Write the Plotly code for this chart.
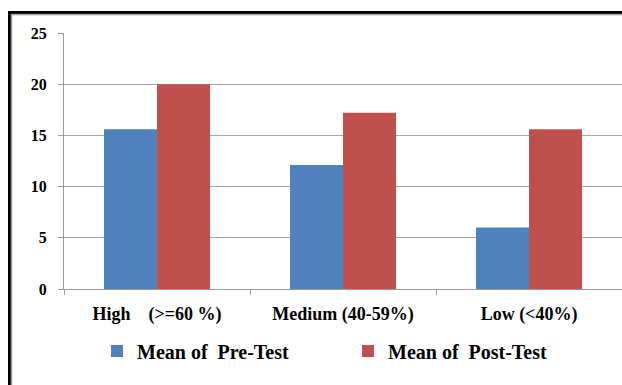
import plotly.graph_objects as go

categories = ["High\u00a0\u00a0\u00a0\u00a0(>=60\u00a0%)", "Medium (40-59%)", "Low (<40%)"]
pre_test = [15.6, 12.1, 6.0]
post_test = [20.0, 17.2, 15.6]
series_names = ["Mean of\u00a0 Pre-Test", "Mean of\u00a0 Post-Test"]
y_ticks = [0, 5, 10, 15, 20, 25]

W, H = 622, 385
L, R, T, B = 64, 0, 33, 96
pw, ph = W - L - R, H - T - B

def px_x(p):
    return (p - L) / pw

def px_y(p):
    return (H - B - p) / ph

fam = "Liberation Serif, Times New Roman, serif"
font = dict(family=fam, color="black", weight="bold")

fig = go.Figure()
fig.add_trace(go.Bar(x=categories, y=pre_test, name=series_names[0],
                     marker=dict(color="#4F81BD", line=dict(width=0))))
fig.add_trace(go.Bar(x=categories, y=post_test, name=series_names[1],
                     marker=dict(color="#C0504D", line=dict(width=0))))

fig.update_layout(
    width=W, height=H,
    margin=dict(l=L, r=R, t=T, b=B, pad=0, autoexpand=False),
    paper_bgcolor="white", plot_bgcolor="white",
    barmode="group", bargap=0.43, bargroupgap=0,
    font=font,
    showlegend=True,
    legend=dict(orientation="h", xref="container", yref="container",
                x=97 / W, xanchor="left", y=(H - 351) / H, yanchor="middle",
                entrywidth=206, entrywidthmode="pixels",
                font=dict(family=fam, size=20, color="black", weight="bold"),
                itemwidth=30, tracegroupgap=0, bgcolor="rgba(0,0,0,0)"),
    xaxis=dict(showgrid=False, showline=True, linecolor="#9a9a9a", linewidth=1,
               ticks="outside", ticklen=5, tickcolor="#9a9a9a", tickson="boundaries",
               tickfont=dict(family=fam, size=18, color="black", weight="bold"),
               ticklabelstandoff=8, fixedrange=True, automargin=False),
    yaxis=dict(range=[0, 25], tickvals=y_ticks, showgrid=True, gridcolor="#a6a6a6", gridwidth=1,
               showline=True, linecolor="#9a9a9a", linewidth=1, zeroline=False,
               ticks="outside", ticklen=5, tickcolor="#9a9a9a",
               tickfont=dict(family=fam, size=16, color="black", weight="bold"),
               ticklabelstandoff=8, fixedrange=True, automargin=False),
)

# Frame around the chart (black outer line with grey inner line)
fig.add_shape(type="line", xref="paper", yref="paper",
              x0=px_x(9.5), x1=px_x(9.5), y0=px_y(400), y1=px_y(11),
              line=dict(color="black", width=3))
fig.add_shape(type="line", xref="paper", yref="paper",
              x0=px_x(8), x1=px_x(640), y0=px_y(12.5), y1=px_y(12.5),
              line=dict(color="black", width=3))
fig.add_shape(type="line", xref="paper", yref="paper",
              x0=px_x(11.5), x1=px_x(11.5), y0=px_y(400), y1=px_y(14.5),
              line=dict(color="#a0a0a0", width=1.5))
fig.add_shape(type="line", xref="paper", yref="paper",
              x0=px_x(11.5), x1=px_x(640), y0=px_y(14.6), y1=px_y(14.6),
              line=dict(color="#a0a0a0", width=1.5))

fig.write_html("out.html",
               config={"displayModeBar": False, "staticPlot": True},
               post_script="document.body.style.margin='0';document.body.style.overflow='hidden';")
